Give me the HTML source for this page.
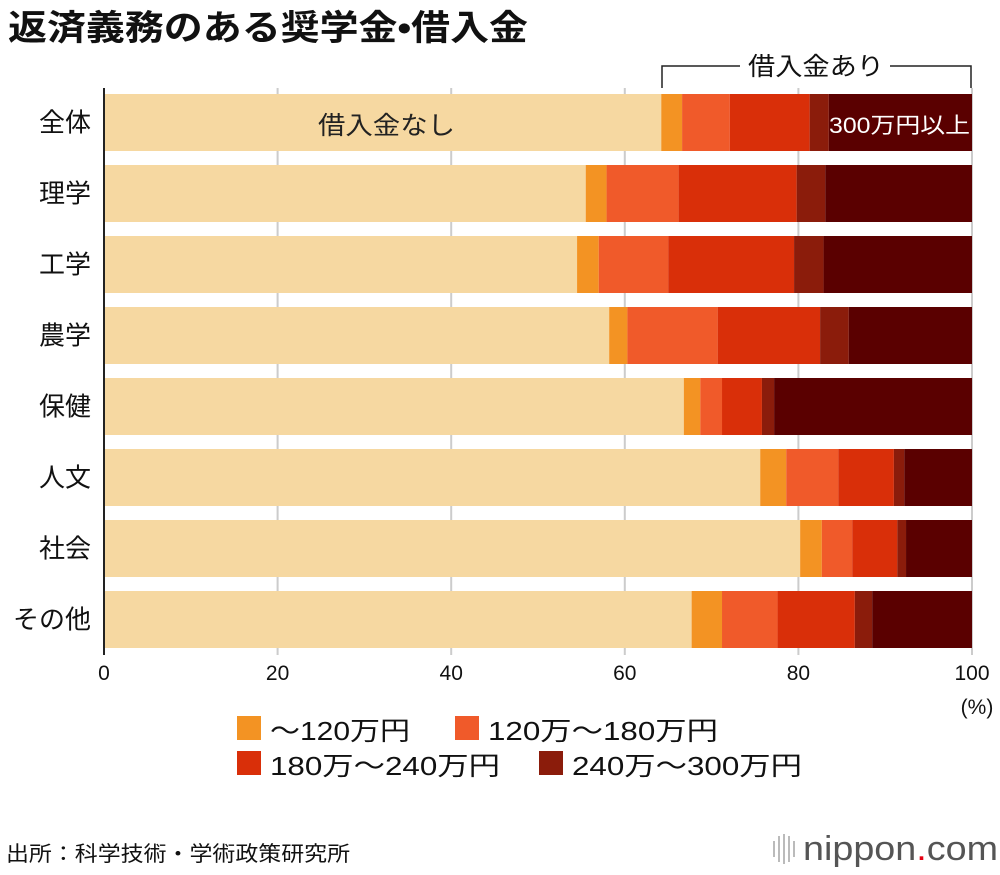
<!DOCTYPE html>
<html><head><meta charset="utf-8">
<style>
body{margin:0;background:#fff;font-family:"Liberation Sans","Noto Sans CJK JP",sans-serif;}
svg text{font-family:"Liberation Sans","Noto Sans CJK JP",sans-serif;}
</style></head>
<body>
<svg id="c" width="1000" height="870" viewBox="0 0 1000 870" xmlns="http://www.w3.org/2000/svg">
<text x="8" y="40" font-size="35" font-weight="bold" fill="#111" textLength="520" lengthAdjust="spacingAndGlyphs">返済義務のある奨学金•借入金</text>
<g id="grid"></g>
<g id="bars"></g>
<g id="ticks"></g>
<g>
<path d="M662 88 V66 H740 M890 66 H971 V88" stroke="#222" stroke-width="1.5" fill="none"/>
<text x="748" y="75" font-size="25" fill="#111" textLength="136" lengthAdjust="spacingAndGlyphs">借入金あり</text>
</g>
<text x="318" y="134" font-size="25" fill="#222" textLength="137" lengthAdjust="spacingAndGlyphs">借入金なし</text>
<text x="829" y="133" font-size="22" fill="#fff" textLength="141" lengthAdjust="spacingAndGlyphs">300万円以上</text>
<text x="977" y="714" font-size="21" text-anchor="middle" fill="#111">(%)</text>
<g id="legend"></g>
<text x="6" y="861" font-size="21" fill="#111" textLength="344" lengthAdjust="spacingAndGlyphs">出所：科学技術・学術政策研究所</text>
<g>
<g stroke="#bbb" stroke-width="2"><line x1="774" y1="841" x2="774" y2="857"/><line x1="779" y1="836" x2="779" y2="862"/><line x1="784" y1="834" x2="784" y2="864"/><line x1="789" y1="836" x2="789" y2="862"/><line x1="794" y1="841" x2="794" y2="857"/></g>
<text x="803" y="860" font-size="34" fill="#555" textLength="195" lengthAdjust="spacingAndGlyphs">nippon<tspan fill="#e60012">.</tspan>com</text>
</g>
</svg>
<script>
const categories=["全体","理学","工学","農学","保健","人文","社会","その他"];
const seriesNone=[64.2,55.5,54.5,58.2,66.8,75.6,80.2,67.7];
const series120=[2.4,2.4,2.5,2.1,1.9,3.0,2.5,3.5];
const series180=[5.5,8.3,8.0,10.4,2.5,6.0,3.5,6.4];
const series240=[9.2,13.6,14.5,11.8,4.6,6.4,5.2,8.9];
const series300=[2.2,3.3,3.4,3.3,1.4,1.2,1.0,2.0];
const seriesOver=[16.5,16.9,17.1,14.2,22.8,7.8,7.6,11.5];
const tickValues=[0,20,40,60,80,100];
const legendLabels=["～120万円","120万～180万円","180万～240万円","240万～300万円"];
const NS="http://www.w3.org/2000/svg";
const x0=104,x1=972;
const xs=v=>x0+(x1-x0)*v/100;
const ys=i=>94+i*71;
const bh=57;
const colors=["#f6d8a1","#f39323","#f05a2a","#d92f09","#8b1c0b","#5a0000"];
const names=["no-loan","upto-120","120-180","180-240","240-300","over-300"];
function el(t,a,p){const e=document.createElementNS(NS,t);for(const k in a)e.setAttribute(k,a[k]);p.appendChild(e);return e;}
const grid=document.getElementById('grid');
tickValues.forEach(v=>{const l=el('line',{x1:xs(v),x2:xs(v),y1:88,y2:655,stroke:'#ccc','stroke-width':2},grid);

});
const bars=document.getElementById('bars');
const all=[seriesNone,series120,series180,series240,series300,seriesOver];
categories.forEach((c,i)=>{let acc=0;
all.forEach((s,j)=>{const r=el('rect',{x:xs(acc),y:ys(i),width:xs(acc+s[i])-xs(acc),height:bh,fill:colors[j]},bars);


acc+=s[i];});
const t=el('text',{x:91,y:ys(i)+bh/2+9,'font-size':26,'text-anchor':'end',fill:'#111'},bars);t.textContent=c;

});
const ticks=document.getElementById('ticks');
const ax=el('line',{x1:x0,x2:x0,y1:88,y2:655,stroke:'#222','stroke-width':2},ticks);


tickValues.forEach(v=>{const t=el('text',{x:xs(v),y:680,'font-size':21,'text-anchor':'middle',fill:'#111'},ticks);t.textContent=v;

});
const lg=document.getElementById('legend');
const lpos=[[237,740],[455,740],[237,775],[539,775]];
const lw=[140,230,230,230];
legendLabels.forEach((l,i)=>{const g=el('g',{},lg);


el('rect',{x:lpos[i][0],y:lpos[i][1]-24,width:24,height:24,fill:colors[i+1]},g);
const t=el('text',{x:lpos[i][0]+33,y:lpos[i][1],'font-size':26,fill:'#111',textLength:lw[i],lengthAdjust:'spacingAndGlyphs'},g);t.textContent=l;});
</script>
</body></html>
